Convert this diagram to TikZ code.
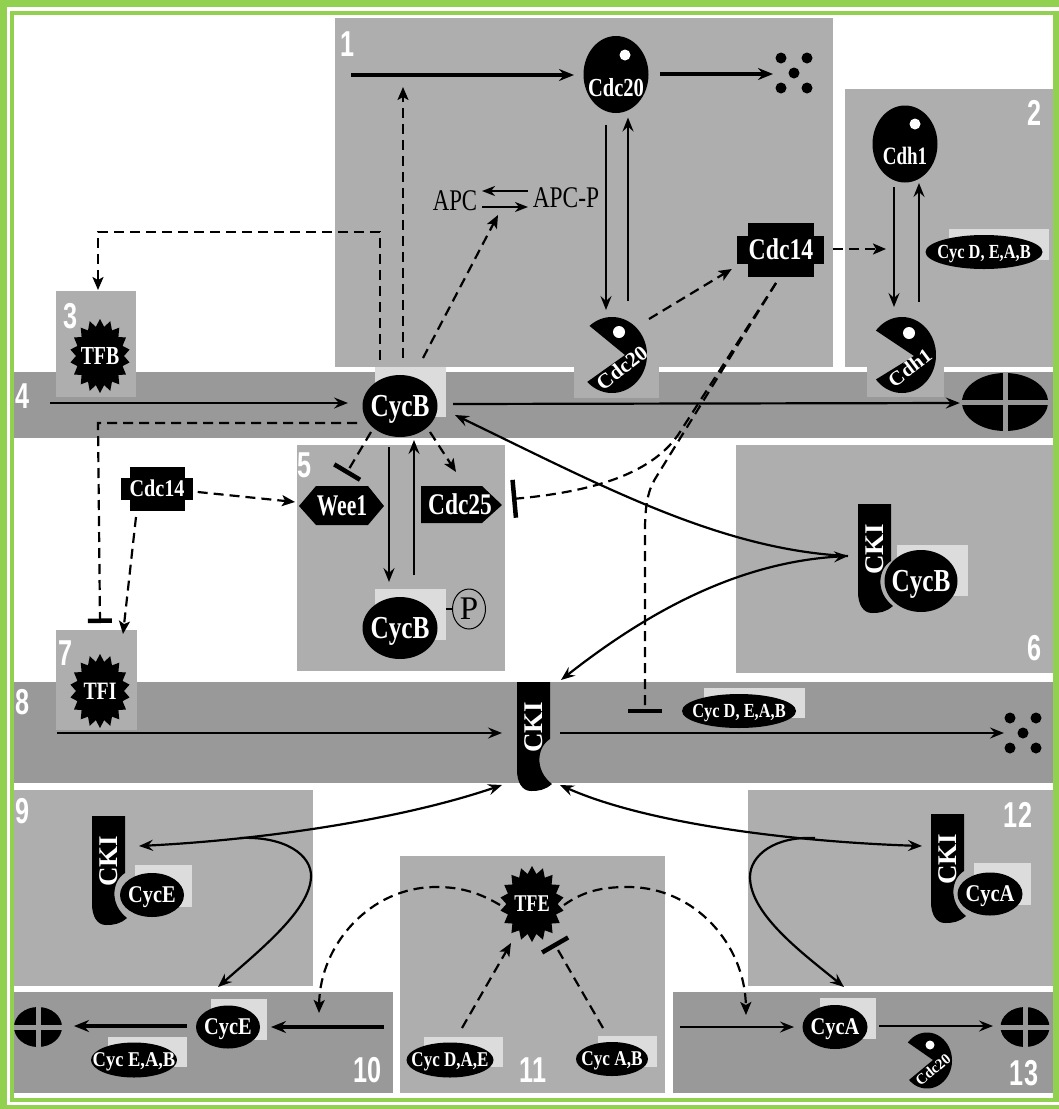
\documentclass[tikz,border=0pt]{standalone}
\usepackage{fontspec}
\usepackage{graphicx}
\setmainfont{Liberation Serif}
\newfontfamily\numfont{Liberation Sans}
\usetikzlibrary{shapes.geometric,arrows.meta,calc}
\definecolor{frameG}{HTML}{92D050}
\definecolor{panelG}{HTML}{AEAEAE}
\definecolor{bandG}{HTML}{999999}
\definecolor{boxG}{HTML}{DCDCDC}
% size, x-scale, text (zero-size box, centred on the node)
\newcommand\wl[3]{\smash{\makebox[0pt][c]{\fontsize{#1}{#1}\selectfont\raisebox{-0.33em}{\bfseries\scalebox{#2}[1]{#3}}}}}
\newcommand\rl[3]{\smash{\makebox[0pt][c]{\fontsize{#1}{#1}\selectfont\raisebox{-0.33em}{\scalebox{#2}[1]{#3}}}}}
\newcommand\nl[1]{\smash{\makebox[0pt][c]{\fontsize{36}{36}\selectfont\numfont\raisebox{-0.36em}{\bfseries\scalebox{.7}[1]{#1}}}}}
\tikzset{
 blob/.style={ellipse,fill=black,inner sep=0pt,text=white},
 txt/.style={inner sep=0pt,text=white},
 numlab/.style={inner sep=0pt,text=white},
 ln/.style={line width=2.2pt,-{Stealth[length=14pt,width=11pt,inset=5pt]}},
 lnb/.style={line width=3.2pt,-{Stealth[length=15pt,width=12pt,inset=5pt]}},
 both/.style={line width=2.2pt,{Stealth[length=14pt,width=11pt,inset=5pt]}-{Stealth[length=14pt,width=11pt,inset=5pt]}},
 dsh/.style={line width=2.2pt,dash pattern=on 10pt off 6pt,-{Stealth[length=13pt,width=11pt,inset=3pt]}},
 inh/.style={line width=2.2pt,dash pattern=on 10pt off 6pt,-{Bar[width=#1,line width=4.5pt]}},
 mol/.style={inner sep=0pt,minimum size=1pt},
}
\newcommand\panel[5]{\fill[#1] (#2,#3) rectangle (#4,#5);}
\newcommand\lbox[4]{\fill[boxG] (#1,#2) rectangle (#3,#4);}
\newcommand\pac[9]{% name cx cy rx ry up low apexx apexy
 \fill plot[domain=#7:#6+360,samples=70] ({#2+#4*cos(\x)},{#3-#5*sin(\x)}) -- (#8,#9) -- cycle;
 \node[mol] (#1) at (#2,#3) {};}
\newcommand\starb[6]{% name cx cy rx ry text
 \fill plot[samples at={0,10,...,350}] ({#2+(mod(\x,20)<1?1:0.8)*#4*cos(\x+90)},{#3-(mod(\x,20)<1?1:0.8)*#5*sin(\x+90)}) -- cycle;
 \node[txt] (#1) at (#2,#3) {#6};}
\newcommand\ckishape[3]{% name x y
 \begin{scope}[shift={(#2,#3)}]
 \fill (0,0) -- (33,0) -- (33,57) .. controls (20,65) and (17,88) .. (35,102) .. controls (28,108) and (22,109) .. (14,109) .. controls (5,109) and (0,100) .. (0,88) -- cycle;
 \node[txt,rotate=90] (#1) at (17,45) {\wl{27}{1}{CKI}};
 \end{scope}}
\newcommand\degr[5]{% name cx cy w h
 \node[ellipse,fill=black,inner sep=0pt,minimum width=#4pt,minimum height=#5pt] (#1) at (#2,#3) {};
 \draw[bandG,line width=5pt] (#1.north) -- (#1.south) (#1.west) -- (#1.east);}
\newcommand\fivedots[3]{% name cx cy
 \coordinate (#1) at (#2,#3);
 \foreach \dx/\dy in {-13/-15,13/-15,0/0,-13/15,13/15}
  \fill ($(#1)+(\dx,\dy)$) circle (5.5pt);}
\begin{document}
\begin{tikzpicture}[x=1pt,y=-1pt]
\useasboundingbox (0,0) rectangle (1059,1109);
% frame
\fill[frameG] (0,0) rectangle (1059,1109);
\fill[white] (7,7) rectangle (1059,1105);
\fill[frameG] (10,11) rectangle (1059,1102);
\fill[white] (14,15) rectangle (1053,1098);
% panels
\panel{panelG}{335}{18}{833}{367}
\panel{panelG}{845}{89}{1053}{367}
\panel{bandG}{14}{372}{1053}{438}
\panel{panelG}{56}{291}{136}{397}
\panel{panelG}{297}{445}{505}{671}
\panel{panelG}{736}{445}{1053}{673}
\panel{bandG}{14}{682}{1053}{783}
\panel{panelG}{56}{630}{137}{730}
\panel{panelG}{14}{790}{313}{986}
\panel{bandG}{14}{992}{393}{1093}
\panel{panelG}{400}{856}{665}{1093}
\panel{panelG}{748}{790}{1053}{986}
\panel{bandG}{673}{992}{1053}{1093}
\panel{panelG}{574}{367}{659}{398}
\panel{panelG}{867}{367}{944}{397}
% light boxes
\lbox{375}{367}{446}{417}
\lbox{375}{589}{446}{640}
\lbox{897}{545}{968}{596}
\lbox{949}{229}{1049}{260}
\lbox{704}{688}{805}{718}
\lbox{135}{865}{192}{907}
\lbox{974}{863}{1031}{905}
\lbox{211}{999}{267}{1040}
\lbox{820}{998}{876}{1039}
\lbox{108}{1037}{187}{1067}
\lbox{424}{1037}{503}{1067}
\lbox{598}{1036}{657}{1067}
% numbers
\node[numlab] (n1) at (348,44) {\nl{1}};
\node[numlab] (n2) at (1034,113) {\nl{2}};
\node[numlab] (n3) at (71,316) {\nl{3}};
\node[numlab] (n4) at (23,396) {\nl{4}};
\node[numlab] (n5) at (305,465) {\nl{5}};
\node[numlab] (n6) at (1034,648) {\nl{6}};
\node[numlab] (n7) at (66,653) {\nl{7}};
\node[numlab] (n8) at (23,702) {\nl{8}};
\node[numlab] (n9) at (23,811) {\nl{9}};
\node[numlab] (n10) at (368,1070) {\nl{10}};
\node[numlab] (n11) at (533,1070) {\nl{11}};
\node[numlab] (n12) at (1018,815) {\nl{12}};
\node[numlab] (n13) at (1024,1073) {\nl{13}};
% molecules, panel 1 and 2
\node[blob,minimum width=65pt,minimum height=77pt] (cdc20) at (616,74.5) {};
\fill[white] (625,55) circle (5.5pt);
\node[txt] (cdc20t) at (616,88) {\wl{26}{.79}{Cdc20}};
\fivedots{dotsA}{794}{73}
\pac{pacA}{612}{355}{35}{38}{130}{225}{625}{355}
\fill[white] (619,332) circle (6pt);
\node[txt,rotate=38] (pacAt) at (622,368) {\wl{21}{1.03}{Cdc20}};
\node[blob,minimum width=65pt,minimum height=77pt] (cdh1) at (905,144) {};
\fill[white] (915,124) circle (5.5pt);
\node[txt] (cdh1t) at (905,156) {\wl{25}{.76}{Cdh1}};
\pac{pacB}{902}{355}{34}{38}{140}{220}{914}{356}
\fill[white] (909,333) circle (6pt);
\node[txt,rotate=37] (pacBt) at (910,368) {\wl{20}{1.05}{Cdh1}};
% Cdc14 big and small
\fill (737,236) rectangle (824,264);
\node[inner sep=0pt,fill=black,text=white,minimum width=66pt,minimum height=54pt] (cdc14) at (781,250) {\wl{30}{.79}{Cdc14}};
\fill (121,478) rectangle (193,500);
\node[inner sep=0pt,fill=black,text=white,minimum width=55pt,minimum height=44pt] (c14s) at (157,489) {\wl{24}{.84}{Cdc14}};
% Cyc ovals
\node[blob,minimum width=117pt,minimum height=34pt] (cycDa) at (984,252) {\wl{20}{.82}{Cyc D, E,A,B}};
\node[blob,minimum width=114pt,minimum height=34pt] (cycDb) at (739,711) {\wl{20}{.82}{Cyc D, E,A,B}};
\node[blob,minimum width=86pt,minimum height=35pt] (cycEab) at (134,1060) {\wl{21}{.88}{Cyc E,A,B}};
\node[blob,minimum width=87pt,minimum height=35pt] (cycDae) at (450,1060) {\wl{21}{.81}{Cyc D,A,E}};
\node[blob,minimum width=72pt,minimum height=34pt] (cycAb) at (612,1059) {\wl{21}{.82}{Cyc A,B}};
% CycB
\node[blob,minimum width=75pt,minimum height=62pt] (cycB) at (400,406) {\wl{32}{.79}{CycB}};
\node[blob,minimum width=75pt,minimum height=62pt] (cycBp) at (400,628) {\wl{32}{.79}{CycB}};
\node[draw=black,line width=1pt,ellipse,inner sep=0pt,minimum width=33pt,minimum height=40pt] (phos) at (469,609) {\rl{33}{1}{P}};
\draw[line width=1.8pt] (446,609) -- (phos.west);
% stars
\starb{tfb}{100}{356}{30}{37}{\wl{26}{.76}{TFB}}
\starb{tfi}{100}{691}{30}{37}{\wl{25}{.79}{TFI}}
\starb{tfe}{532}{904}{32}{38}{\wl{24}{.76}{TFE}}
% Wee1 and Cdc25
\fill (299,506) -- (316,486) -- (368,486) -- (384,506) -- (368,525) -- (316,525) -- cycle;
\node[txt] (wee1) at (342,506) {\wl{30}{.72}{Wee1}};
\fill (421,486) -- (482,486) -- (502,505) -- (482,523) -- (421,523) -- cycle;
\node[txt] (cdc25) at (460,505) {\wl{30}{.78}{Cdc25}};
% degradation marks
\degr{degB}{1005}{402}{86}{58}
\degr{degE}{38}{1027}{48}{40}
\degr{degA}{1025}{1027}{49}{40}
\fivedots{dotsB}{1023}{733}
% CKI
\ckishape{ckiM}{517}{682}
\ckishape{cki6}{858}{504}
\node[blob,minimum width=73pt,minimum height=62pt] (cycB6) at (921,581) {\wl{32}{.79}{CycB}};
\ckishape{cki9}{92}{816}
\node[blob,minimum width=64pt,minimum height=44pt] (cycE9) at (152,895) {\wl{24}{.85}{CycE}};
\ckishape{cki12}{931}{814}
\node[blob,minimum width=65pt,minimum height=43pt] (cycA12) at (990,894) {\wl{24}{.85}{CycA}};
% CycE, CycA on the lower bands
\node[blob,minimum width=64pt,minimum height=43pt] (cycE) at (228,1027) {\wl{24}{.85}{CycE}};
\node[blob,minimum width=65pt,minimum height=44pt] (cycA) at (835,1027) {\wl{24}{.85}{CycA}};
\pac{pacC}{927}{1060.5}{25}{28}{140}{224}{933}{1060}
\fill[white] (930,1045) circle (4.5pt);
\node[txt,rotate=40] (pacCt) at (933,1070) {\wl{15}{1}{Cdc20}};
% APC
\node[inner sep=0pt] (apc) at (455,201) {\rl{30}{.76}{APC}};
\node[inner sep=0pt] (apcp) at (566,198) {\rl{30}{.78}{APC-P}};
\draw[line width=2.6pt,-{Stealth[length=13pt,width=10pt,inset=4pt]}] ($(apcp)+(-38,-7)$) -- ($(apc)+(27,-10)$);
\draw[line width=2.6pt,-{Stealth[length=13pt,width=10pt,inset=4pt]}] ($(apc)+(27,6)$) -- ($(apcp)+(-38,9)$);
% free ends
\coordinate (in1) at (351,75);
\coordinate (in4) at (50,403);
\coordinate (in8) at (57,733);
\coordinate (in10) at (384,1027);
\coordinate (in13) at (680,1027);
\coordinate (up1) at (403,87);
\coordinate (tip10) at (319,1013);
\coordinate (tip13) at (746,1015);
\coordinate (kinkT) at (98,232);
% connectors, panel 1 and 2
\draw[lnb] (in1) -- ($(cdc20)+(-42,0.5)$);
\draw[lnb] ($(cdc20)+(44,-0.5)$) -- ($(dotsA)+(-21,1)$);
\draw[ln] ($(cdc20)+(-10,50)$) -- ($(pacA)+(-6,-45)$);
\draw[ln] ($(pacA)+(16,-54)$) -- ($(cdc20)+(12,43)$);
\draw[ln] ($(cdh1)+(-11,43)$) -- ($(pacB)+(-8,-48)$);
\draw[ln] ($(pacB)+(17,-53)$) -- ($(cdh1)+(14,39)$);
\draw[dsh] ($(pacA)+(37,-36)$) -- ($(cdc14.west)+(-16,19)$);
\draw[dsh] ($(cdc14.east)+(19,-1)$) -- ($(cdh1)+(-19,105)$);
\draw[dsh] ($(cycB)+(3,-48)$) -- (up1);
\draw[dsh] ($(cycB)+(23,-48)$) -- ($(apc)+(43,14)$);
\draw[dsh] ($(cycB)+(-20,-46)$) -- ($(kinkT -| cycB)+(-20,0)$) -- (kinkT) -- ($(tfb)+(-2,-66)$);
% band 4
\draw[ln] (in4) -- ($(cycB)+(-52,-3)$);
\draw[ln] ($(cycB)+(53,-2)$) -- ($(degB.west)+(-2,1)$);
\draw[inh=24pt] ($(cycB)+(-43,17)$) -- ($(cycB)+(-302,17)$) -- ($(tfi)+(0,-68)$);
\draw[dsh] ($(c14s)+(-21,28)$) -- ($(tfi)+(23,-57)$);
\draw[dsh] ($(c14s.east)+(13,3)$) -- ($(wee1)+(-47,-4)$);
% panel 5
\draw[inh=30pt] ($(cycB)+(-29,26)$) -- ($(wee1)+(4,-32)$);
\draw[dsh] ($(cycB)+(30,26)$) -- ($(cdc25)+(-4,-33)$);
\draw[ln] ($(cycB)+(-11,41)$) -- ($(cycBp)+(-11,-46)$);
\draw[ln] ($(cycBp)+(14,-53)$) -- ($(cycB)+(14,34)$);
% long Cdc14 inhibitions
\draw[inh=34pt] ($(cdc14)+(-5,33)$) -- ($(cycDb)+(-84,-232)$) .. controls (647,492) and (645,510) .. (645,530) -- ($(cycDb)+(-94,2)$);
\draw[inh=38pt] ($(cdc14)+(-5,33)$) -- (678,435) .. controls (650,475) and (590,492) .. ($(cdc25)+(52,-6)$);
% panel 8
\draw[ln] (in8) -- ($(ckiM)+(-32,6)$);
\draw[ln] ($(ckiM)+(26,6)$) -- ($(dotsB)+(-19,0)$);
% CKI complex loops
\draw[ln] ($(cki6)+(-27,7)$) .. controls (720,550) and (600,485) .. ($(cycB)+(55,9)$);
\draw[both] ($(ckiM)+(27,-47)$) .. controls (650,610) and (740,562) .. ($(cki6)+(-27,7)$);
\draw[both] ($(cki9)+(30,-15)$) .. controls (260,840) and (400,820) .. ($(ckiM)+(-32,58)$);
\draw[ln] (240,838) .. controls (285,836) and (312,855) .. (311,877) .. controls (310,910) and (260,950) .. ($(cycE)+(-10,-40)$);
\draw[both] ($(ckiM)+(26,58)$) .. controls (650,825) and (800,842) .. ($(cki12)+(-26,-13)$);
\draw[ln] (815,838) .. controls (775,836) and (750,855) .. (750,877) .. controls (750,915) and (805,955) .. ($(cycA)+(9,-40)$);
% TFE
\draw[dsh] ($(tfe)+(-32,1)$) .. controls (475,890) and (455,887) .. (436,887) .. controls (370,887) and (320,945) .. (tip10);
\draw[dsh] ($(tfe)+(32,1)$) .. controls (585,890) and (605,887) .. (628,887) .. controls (695,887) and (745,945) .. (tip13);
\draw[dsh] ($(cycDae)+(12,-32)$) -- ($(tfe)+(-21,39)$);
\draw[inh=30pt] ($(cycAb)+(-9,-31)$) -- ($(tfe)+(22,39)$);
% lower bands
\draw[lnb] ($(cycE)+(-41,-1)$) -- ($(degE)+(36,-1)$);
\draw[lnb] (in10) -- ($(cycE)+(43,0)$);
\draw[ln] (in13) -- ($(cycA)+(-41,0)$);
\draw[ln] ($(cycA)+(44,-1)$) -- ($(degA)+(-32,-1)$);
\end{tikzpicture}
\end{document}
